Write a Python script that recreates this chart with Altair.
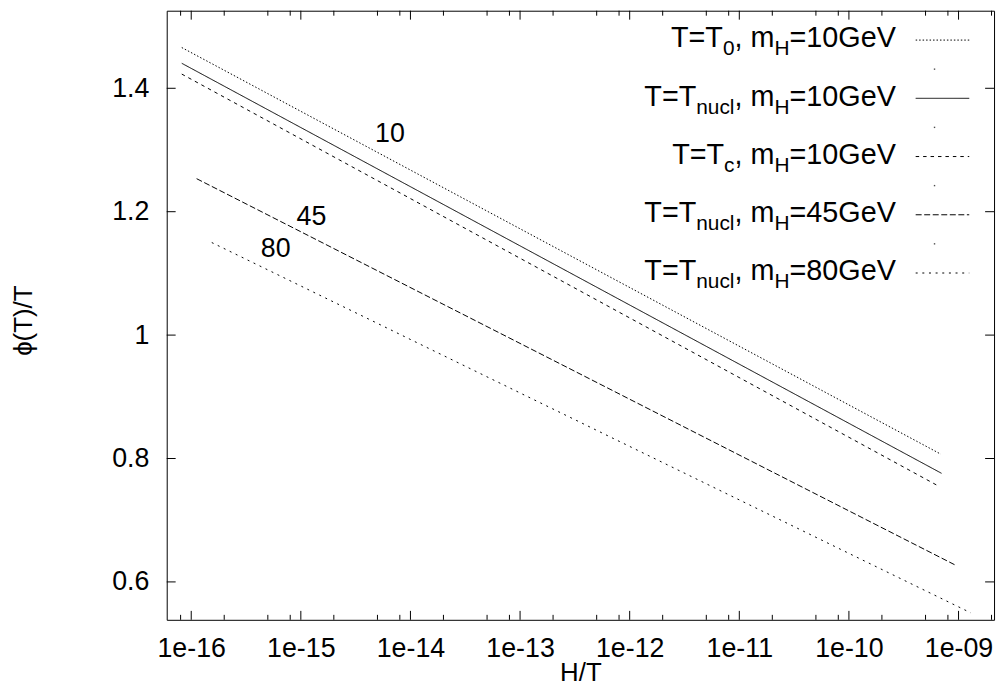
import altair as alt
import pandas as pd

# ---------------- data ----------------
series = ["T0_10", "Tnucl_10", "Tc_10", "Tnucl_45", "Tnucl_80"]
x_start = [8.2e-17, 8.2e-17, 8.2e-17, 1.12e-16, 1.54e-16]
x_end = [6.9e-10, 7.0e-10, 6.7e-10, 9.3e-10, 1.29e-9]
y_start = [1.466, 1.4405, 1.423, 1.2535, 1.150]
y_end = [0.807, 0.776, 0.7545, 0.6275, 0.550]

curve_labels = ["10", "45", "80"]
curve_label_x = [6.5e-15, 1.25e-15, 5.9e-16]
curve_label_y = [1.325, 1.191, 1.140]

x_major = [1e-16, 1e-15, 1e-14, 1e-13, 1e-12, 1e-11, 1e-10, 1e-9]
x_minor_mult = [2, 5, 8]
x_minor_exp = list(range(-17, -8))
y_ticks = [0.6, 0.8, 1.0, 1.2, 1.4]

# legend rows: (text, is_subscript)
legend_rows = [
    [("T=T", 0), ("0", 1), (", m", 0), ("H", 1), ("=10GeV", 0)],
    [("T=T", 0), ("nucl", 1), (", m", 0), ("H", 1), ("=10GeV", 0)],
    [("T=T", 0), ("c", 1), (", m", 0), ("H", 1), ("=10GeV", 0)],
    [("T=T", 0), ("nucl", 1), (", m", 0), ("H", 1), ("=45GeV", 0)],
    [("T=T", 0), ("nucl", 1), (", m", 0), ("H", 1), ("=80GeV", 0)],
]

x_title = "H/T"
y_title = "\u03d5(T)/T"

# ---------------- styles / layout ----------------
FONT = "Liberation Sans"
W, H = 834, 614
X_DOM = [10 ** -16.2235, 10 ** -8.676]
Y_DOM = [0.5386, 1.5257]
dashes = [[1.5, 2], [1, 0], [3.5, 4], [6, 2.6], [2, 4.7]]

xs = alt.Scale(type="log", domain=X_DOM, nice=False)
ys = alt.Scale(domain=Y_DOM, nice=False, zero=False)
dash_scale = alt.Scale(domain=series, range=dashes)

lab_expr = ("'1e-' + (round(-log(datum.value)/LN10) < 10 ? '0' : '') + "
            "round(-log(datum.value)/LN10)")
xaxis = alt.Axis(values=x_major, labelExpr=lab_expr, domain=False, ticks=False,
                 tickSize=0, grid=False, labelFontSize=27, labelFont=FONT,
                 labelColor="black", labelPadding=16, labelFlush=False,
                 labelOverlap=False,
                 title=x_title, titleFont=FONT, titleFontSize=26,
                 titleFontWeight="normal", titleColor="black",
                 titleBaseline="middle", titleY=53, titleX=W / 2,
                 titleAnchor="middle", titleAlign="center")
yaxis = alt.Axis(values=y_ticks, format=".1~f", domain=False, ticks=False,
                 tickSize=0, grid=False, labelFontSize=27, labelFont=FONT,
                 labelColor="black", labelPadding=18, labelOverlap=False,
                 title=y_title, titleFont=FONT, titleFontSize=26,
                 titleFontWeight="normal", titleColor="black",
                 titleAngle=270, titleBaseline="middle", titleAlign="center",
                 titleX=-144, titleY=312)

rows = []
for s, x0, x1, y0, y1 in zip(series, x_start, x_end, y_start, y_end):
    rows.append({"series": s, "x": x0, "y": y0})
    rows.append({"series": s, "x": x1, "y": y1})
df_lines = pd.DataFrame(rows)

lines = alt.Chart(df_lines).mark_line(color="black", strokeWidth=1, clip=True).encode(
    x=alt.X("x:Q", scale=xs, axis=xaxis),
    y=alt.Y("y:Q", scale=ys, axis=yaxis),
    strokeDash=alt.StrokeDash("series:N", scale=dash_scale, legend=None),
)

df_cl = pd.DataFrame({"x": curve_label_x, "y": curve_label_y, "t": curve_labels})
clabels = alt.Chart(df_cl).mark_text(font=FONT, fontSize=27, color="black",
                                      align="center", baseline="middle").encode(
    x=alt.X("x:Q", scale=xs, axis=xaxis), y=alt.Y("y:Q", scale=ys, axis=yaxis), text="t:N")

# ticks (inward, mirrored)
x_minor = [m * 10.0 ** e for e in x_minor_exp for m in x_minor_mult
           if X_DOM[0] <= m * 10.0 ** e <= X_DOM[1]]
df_xmaj = pd.DataFrame({"v": x_major})
df_xmin = pd.DataFrame({"v": x_minor})
df_y = pd.DataFrame({"v": y_ticks})

def xtick(df, y0, y1):
    return alt.Chart(df).mark_rule(color="black", strokeWidth=1).encode(
        x=alt.X("v:Q", scale=xs, axis=xaxis), y=alt.value(y0), y2=alt.value(y1))

def ytick(x0, x1):
    return alt.Chart(df_y).mark_rule(color="black", strokeWidth=1).encode(
        y=alt.Y("v:Q", scale=ys, axis=yaxis), x=alt.value(x0), x2=alt.value(x1))

ticks = [xtick(df_xmaj, H, H - 9), xtick(df_xmaj, 0, 9),
         xtick(df_xmin, H, H - 5), xtick(df_xmin, 0, 5),
         ytick(0, 9), ytick(W, W - 9)]

# legend layout (Arial metrics)
AW = {"T": 611, "=": 584, ",": 278, " ": 278, "m": 833, "H": 722, "G": 778,
      "e": 556, "V": 667, "n": 556, "u": 556, "c": 500, "l": 222}
def tw(s, size):
    return sum(AW.get(ch, 556) for ch in s) * size / 1000.0

MAIN, SUB = 29, 21
RIGHT = 735
BASE0, STEP = 37.0, 58.7
leg_main, leg_sub, samples, dots = [], [], [], []
for i, (row, s) in enumerate(zip(legend_rows, series)):
    base = BASE0 + i * STEP
    x = RIGHT
    for txt, sub in reversed(row):
        if sub:
            leg_sub.append({"px": x, "py": base + 8, "t": txt})
            x -= tw(txt, SUB)
        else:
            leg_main.append({"px": x, "py": base, "t": txt})
            x -= tw(txt, MAIN)
    samples.append({"px": 755, "px2": 809, "py": base - 7.4, "series": s})
    if i < len(legend_rows) - 1:
        dots.append({"px": 774, "py": base - 7.4 + 29.3})

def leg_text(rows_, size):
    return alt.Chart(pd.DataFrame(rows_)).mark_text(
        font=FONT, fontSize=size, color="black", align="right", baseline="alphabetic"
    ).encode(x=alt.X("px:Q", scale=None, axis=None),
             y=alt.Y("py:Q", scale=None, axis=None), text="t:N")

leg_samples = alt.Chart(pd.DataFrame(samples)).mark_rule(color="black", strokeWidth=1).encode(
    x=alt.X("px:Q", scale=None, axis=None), x2="px2:Q",
    y=alt.Y("py:Q", scale=None, axis=None),
    strokeDash=alt.StrokeDash("series:N", scale=dash_scale, legend=None))
leg_dots = alt.Chart(pd.DataFrame(dots)).mark_square(size=2, color="black", opacity=0.7).encode(
    x=alt.X("px:Q", scale=None, axis=None), y=alt.Y("py:Q", scale=None, axis=None))

chart = alt.layer(
    lines, clabels, *ticks, leg_text(leg_main, MAIN), leg_text(leg_sub, SUB),
    leg_samples, leg_dots
).properties(
    width=W, height=H,
    autosize=alt.AutoSizeParams(type="none"),
    padding={"left": 160, "top": 0, "right": 6, "bottom": 66},
).configure_view(stroke="black", strokeWidth=1)

chart.save("out.html", embed_options={"renderer": "svg", "actions": False})
